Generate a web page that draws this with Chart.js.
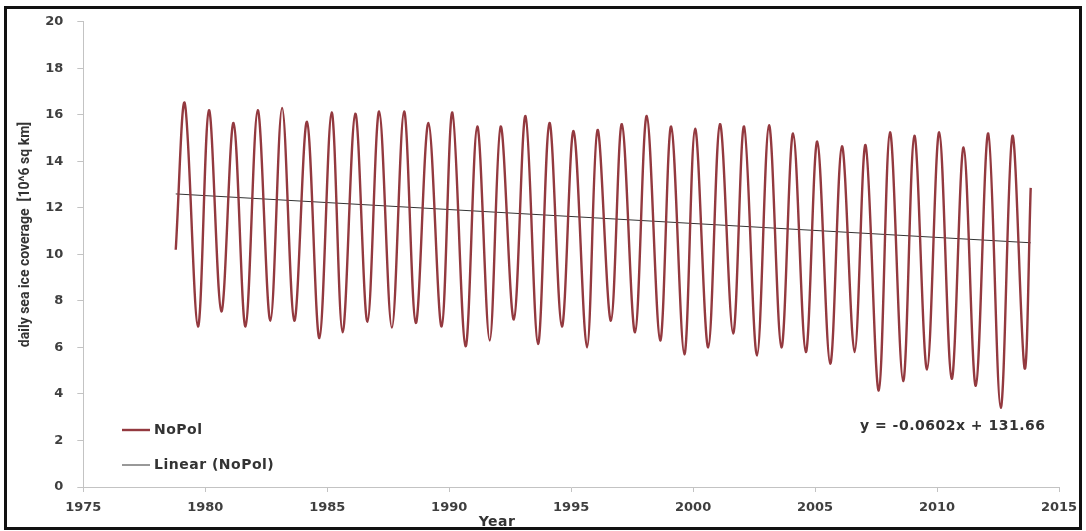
<!DOCTYPE html>
<html>
<head>
<meta charset="utf-8">
<script src="https://cdn.jsdelivr.net/npm/chart.js@4.4.1/dist/chart.umd.min.js"></script>
<style>
  html, body { margin: 0; padding: 0; background: #fff; }
  #wrap { position: relative; width: 1086px; height: 531px; }
  #frame { position: absolute; left: 4px; top: 6px; width: 1078px; height: 524px; box-sizing: border-box; border: 3px solid #111; pointer-events: none; }
  canvas { position: absolute; left: 0; top: 0; }
</style>
</head>
<body>
<div id="wrap">
  <canvas id="chart" width="1086" height="531"></canvas>
  <div id="frame"></div>
</div>
<script>
// valores (10^6 km2), maximos de marzo y minimos de septiembre
const startPoint = [1978.79, 10.2]
const endPoint   = [2013.84, 12.86]

const peakYears = [1979.16, 1980.15, 1981.16, 1982.15, 1983.15, 1984.17, 1985.18, 1986.15, 1987.13, 1988.15,
                   1989.15, 1990.13, 1991.15, 1992.11, 1993.13, 1994.11, 1995.10, 1996.08, 1997.08, 1998.10,
                   1999.10, 2000.08, 2001.10, 2002.09, 2003.11, 2004.10, 2005.09, 2006.10, 2007.07, 2008.07,
                   2009.07, 2010.09, 2011.09, 2012.10, 2013.09]
const peakValues = [16.5, 16.2, 15.65, 16.2, 16.3, 15.7, 16.1, 16.05, 16.15, 16.15,
                    15.65, 16.1, 15.5, 15.5, 15.95, 15.65, 15.3, 15.35, 15.6, 15.95,
                    15.5, 15.4, 15.6, 15.5, 15.55, 15.2, 14.85, 14.65, 14.7, 15.25,
                    15.1, 15.25, 14.6, 15.2, 15.1]

const troughYears = [1979.70, 1980.66, 1981.65, 1982.67, 1983.65, 1984.68, 1985.63, 1986.65, 1987.65, 1988.63,
                     1989.69, 1990.67, 1991.66, 1992.65, 1993.64, 1994.62, 1995.65, 1996.63, 1997.62, 1998.65,
                     1999.64, 2000.62, 2001.64, 2002.62, 2003.62, 2004.62, 2005.62, 2006.62, 2007.61, 2008.61,
                     2009.59, 2010.60, 2011.59, 2012.61, 2013.59]
const troughValues = [6.9, 7.55, 6.9, 7.15, 7.15, 6.4, 6.65, 7.1, 6.85, 7.05,
                      6.9, 6.05, 6.3, 7.2, 6.15, 6.9, 6.0, 7.15, 6.65, 6.3,
                      5.7, 6.0, 6.6, 5.65, 6.0, 5.8, 5.3, 5.8, 4.15, 4.55,
                      5.05, 4.65, 4.35, 3.4, 5.1]

const trendYears  = [1978.79, 2013.84]
const trendValues = [12.6, 10.5]

const xRange = [1975, 2015]
const yRange = [0, 20]
const xStep = 5
const yStep = 2

const seriesLabel = 'NoPol'
const trendLabel  = 'Linear (NoPol)'
const equation    = 'y = -0.0602x + 131.66'
const xTitle      = 'Year'
const yTitle      = 'daily sea ice coverage  [10^6 sq km]'

const SERIES_COLOR = '#93393f'
const TREND_COLOR  = '#333333'
const AXIS_COLOR   = '#c3c3c3'
const TEXT_COLOR   = '#333333'

function buildSeries() {
    const pts = [{ x: startPoint[0], y: startPoint[1] }]
    peakYears.forEach((yr, i) => {
        pts.push({ x: yr, y: peakValues[i] })
        pts.push({ x: troughYears[i], y: troughValues[i] })
    })
    pts.push({ x: endPoint[0], y: endPoint[1] })
    return pts
}

const overlayText = {
    id: 'overlayText',
    afterDraw(chart) {
        const ctx = chart.ctx
        ctx.save()
        ctx.fillStyle = TEXT_COLOR
        ctx.textBaseline = 'middle'

        // leyenda dentro del area
        ctx.lineWidth = 2.4
        ctx.strokeStyle = SERIES_COLOR
        ctx.beginPath(); ctx.moveTo(122, 430); ctx.lineTo(150, 430); ctx.stroke()
        ctx.lineWidth = 1
        ctx.strokeStyle = TREND_COLOR
        ctx.beginPath(); ctx.moveTo(122, 465); ctx.lineTo(150, 465); ctx.stroke()

        ctx.font = 'bold 14px "DejaVu Sans"'
        ctx.letterSpacing = '0.5px'
        ctx.textAlign = 'left'
        ctx.fillText(seriesLabel, 154, 430)
        ctx.fillText(trendLabel, 154, 465)
        ctx.fillText(equation, 860, 426)

        ctx.textAlign = 'center'
        ctx.fillText(xTitle, 497, 522)

        ctx.letterSpacing = '0px'
        ctx.font = 'bold 14px Roboto, "DejaVu Sans Condensed"'
        ctx.translate(25, 234.5)
        ctx.rotate(-Math.PI / 2)
        ctx.fillText(yTitle, 0, 0)
        ctx.restore()
    }
}

const tickFont = { family: '"DejaVu Sans"', size: 13, weight: 'bold' }

new Chart(document.getElementById('chart'), {
    type: 'line',
    data: {
        datasets: [
            {
                label: seriesLabel,
                data: buildSeries(),
                borderColor: SERIES_COLOR,
                borderWidth: 2.4,
                pointRadius: 0,
                tension: 0.35,
                fill: false
            },
            {
                label: trendLabel,
                data: trendYears.map((yr, i) => ({ x: yr, y: trendValues[i] })),
                borderColor: TREND_COLOR,
                borderWidth: 1,
                pointRadius: 0,
                tension: 0,
                fill: false
            }
        ]
    },
    options: {
        responsive: false,
        animation: false,
        layout: { padding: { left: 8, right: 27, top: 18, bottom: 4 } },
        plugins: { legend: { display: false }, tooltip: { enabled: false } },
        scales: {
            x: {
                type: 'linear',
                min: xRange[0],
                max: xRange[1],
                ticks: { stepSize: xStep, color: '#3f3f3f', font: tickFont, padding: 8, maxRotation: 0, callback: v => String(v) },
                grid: { drawOnChartArea: false, drawTicks: true, tickLength: 5, color: AXIS_COLOR },
                border: { display: true, color: AXIS_COLOR },
                afterFit: s => { s.height = 40 }
            },
            y: {
                min: yRange[0],
                max: yRange[1],
                ticks: { stepSize: yStep, color: '#3f3f3f', font: tickFont, padding: 14 },
                grid: { drawOnChartArea: false, drawTicks: true, tickLength: 6, color: AXIS_COLOR },
                border: { display: true, color: AXIS_COLOR },
                afterFit: s => { s.width = 75.3 }
            }
        }
    },
    plugins: [overlayText]
})
</script>
</body>
</html>
